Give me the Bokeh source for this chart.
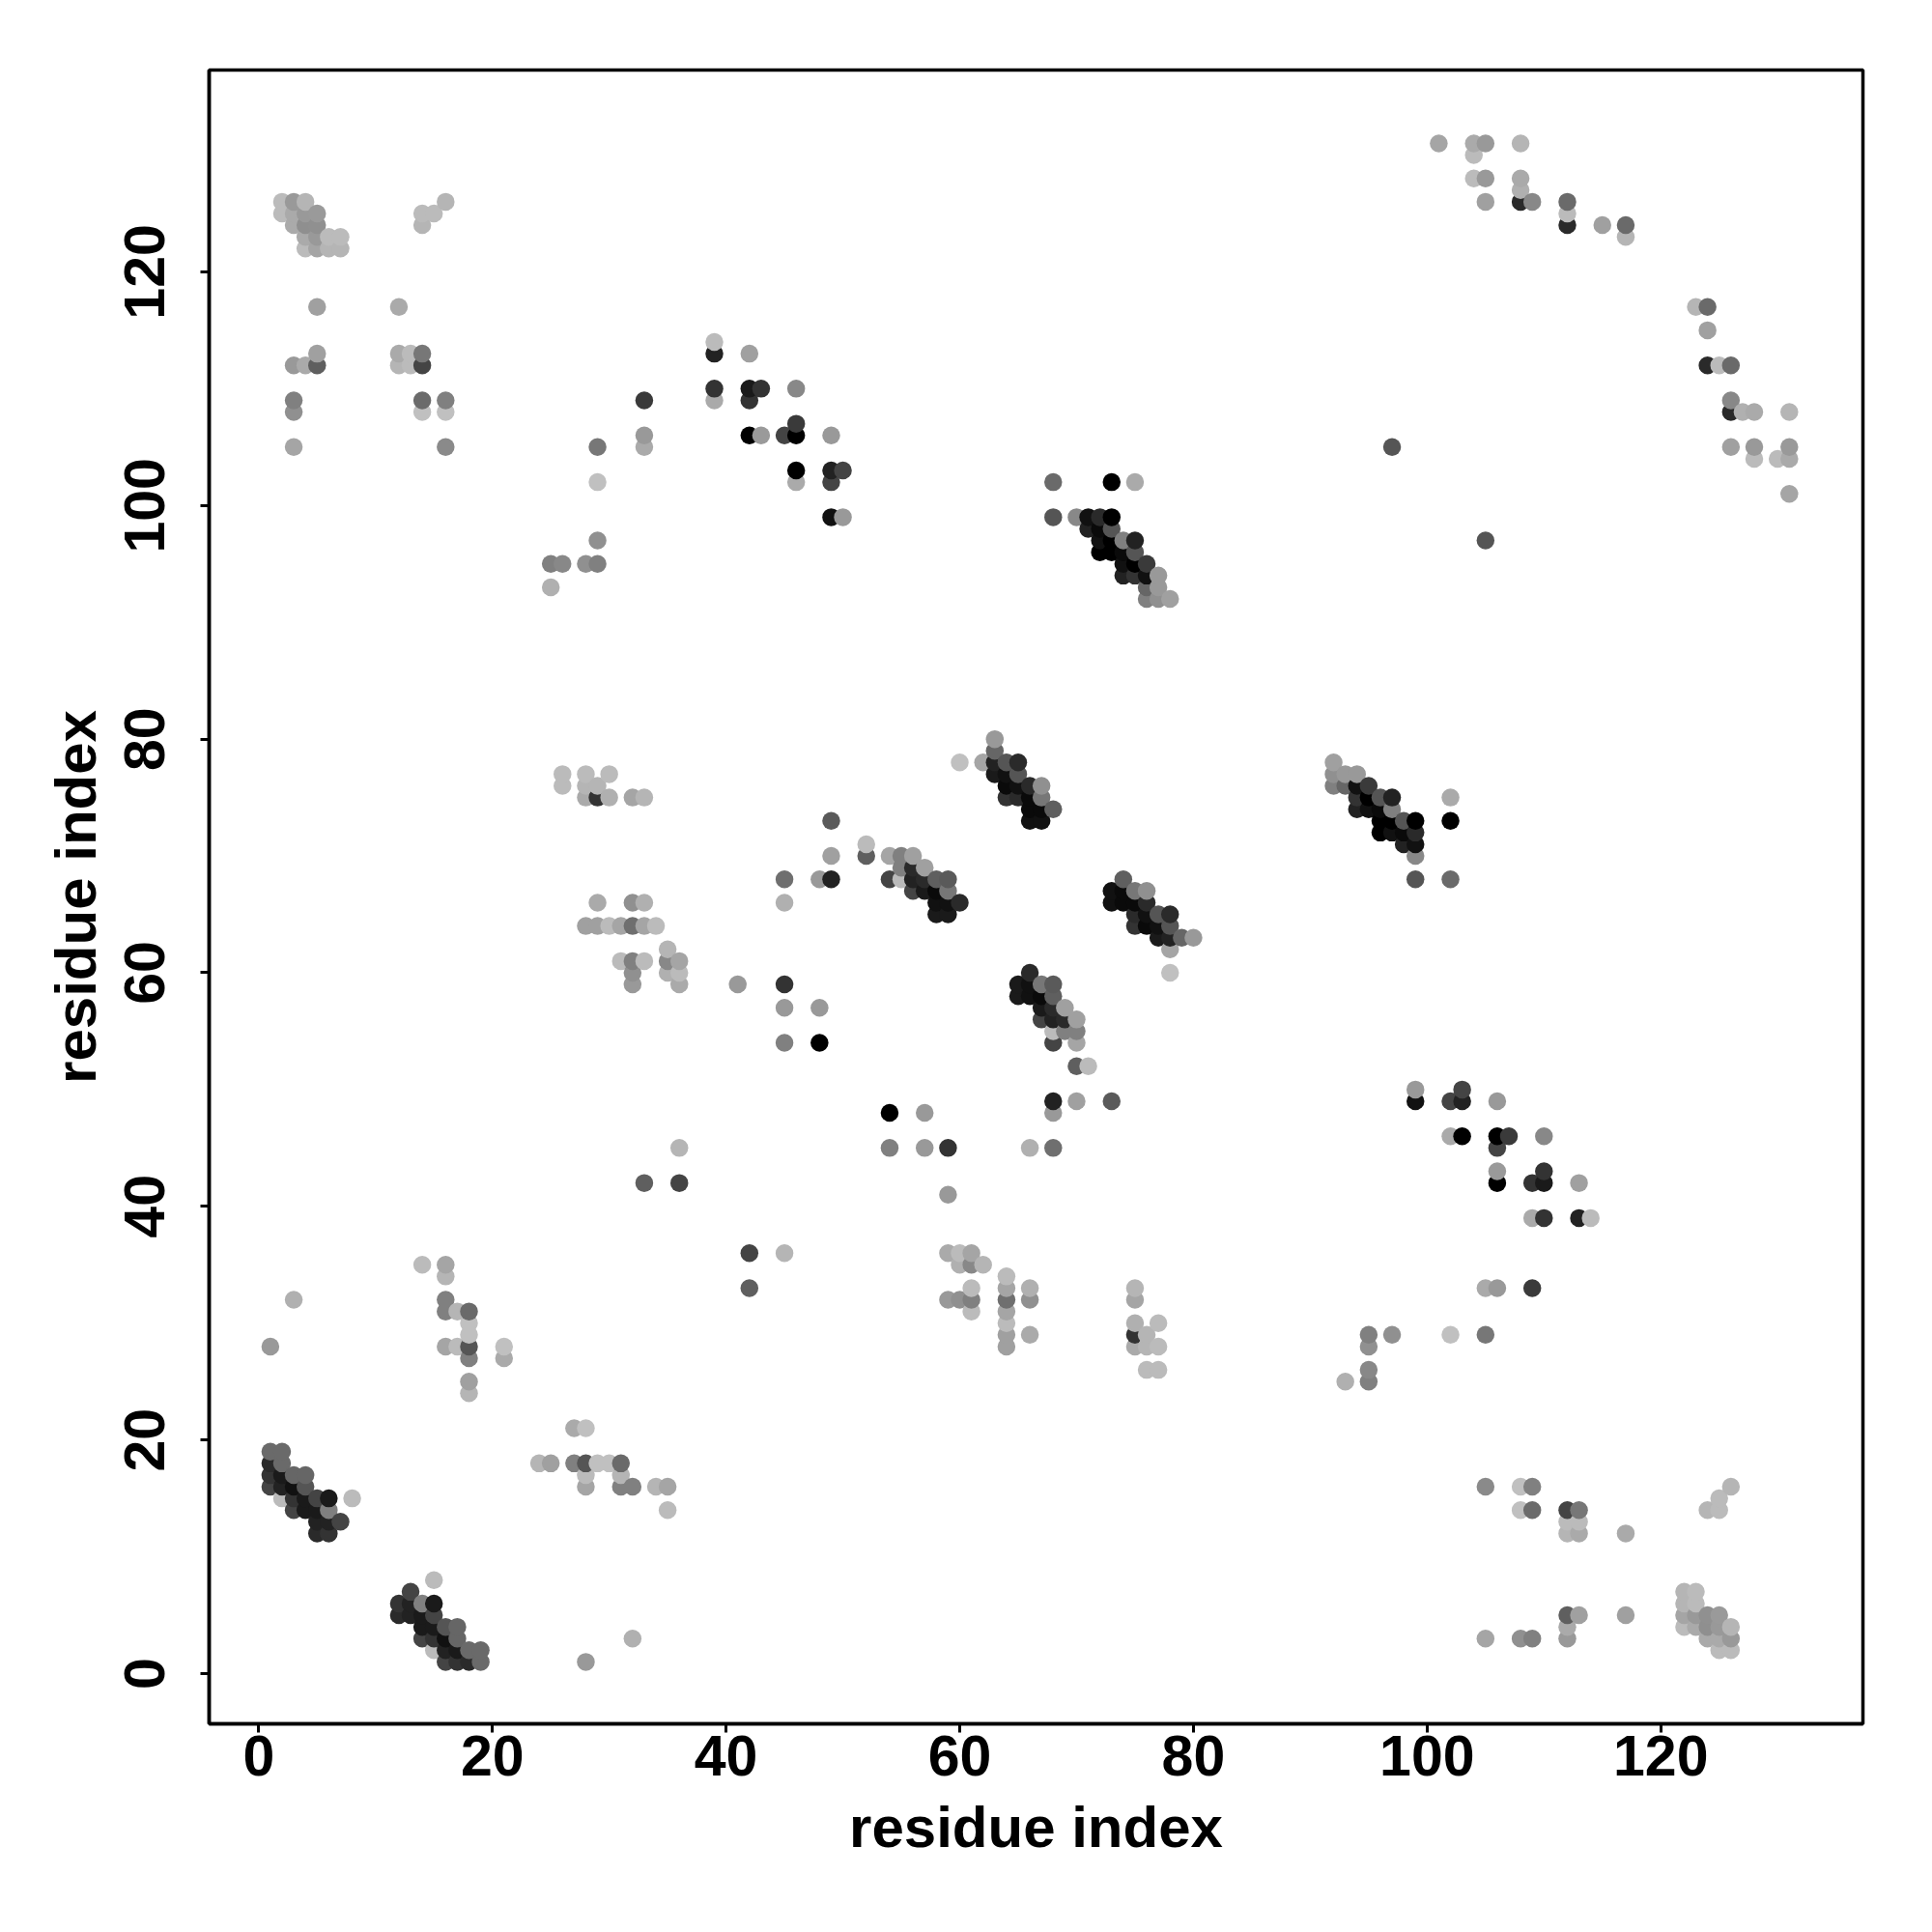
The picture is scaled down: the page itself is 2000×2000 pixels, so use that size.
from bokeh.plotting import figure
from bokeh.models import ColumnDataSource, FixedTicker
from bokeh.embed import file_html
from bokeh.resources import INLINE
import numpy as np

# contacts with residue_a < residue_b; the map is symmetric, so each is also drawn mirrored
residue_a = [
    1,1,1,1,1, 2,2,2,2,2,2,2, 3,3,3,3,3,3,3,3,3,3,3,3,
    4,4,4,4,4,4,4,4,4,4, 5,5,5,5,5,5,5,5,5,5,5, 6,6,6,6,6,6, 7,7,7, 8,
    12,12,12, 13,13, 14,14,14,14,14,14,14, 15,
    16,16,16,16,16,16,16,16,16, 17,17, 18,18,18,18,18,18,18, 21,21,
    25,25, 26,26,26, 28,28,28,28,28, 29,29,29,29,29,29,29,29, 30,30,30, 31,31,
    32,32,32,32,32,32, 33,33,33,33,33,33,33,33, 34, 35,35,35, 36,36,36,36,36,
    39,39,39,39, 41, 42,42,42,42, 43,43, 45,45,45,45,45,45, 46,46,46,46,46,
    48,48,48, 49,49,49,49,49,49,49, 50,50, 52,52, 54,54, 55,55,55, 56,56,56,56,
    57,57,57, 58,58,58,58, 59,59,59,59, 60,60, 62, 63,63,63,63, 64,64,64,64,
    65,65,65,65, 66,66,66,66, 67,67,67,67, 68,68,68, 70, 71,71, 72,72,72,72,
    73,73,73,73,73, 74,74,74,74, 75,75,75,75,75, 76,76,76,76, 77,77,77, 78,
    97, 101, 104,104,104, 105,105,105, 108,108,108,108, 109, 112,112,112, 115, 117,117,
]
residue_b = [
    16,17,18,19,28, 15,16,17,18,19,125,126, 14,15,16,17,32,105,108,109,112,124,125,126,
    14,15,16,17,112,122,123,124,125,126, 12,13,14,15,112,113,117,122,123,124,125, 12,13,14,15,122,123, 13,122,123, 15,
    112,113,117, 112,113, 35,108,109,112,113,124,125, 125,
    28,31,32,34,35,105,108,109,126, 28,31, 24,25,27,28,29,30,31, 27,28,
    93,95, 76,77,95, 64,75,76,77,95, 64,66,75,76,95,97,102,105, 64,75,77, 61,64,
    59,60,61,64,66,75, 42,61,64,66,75,105,106,109, 64, 60,61,62, 42,45,59,60,61,
    109,110,113,114, 59, 106,109,110,113, 106,110, 54,57,59,66,68,106, 102,103,106,107,110,
    54,57,68, 68,70,73,99,102,103,106, 99,103, 70,71, 68,70, 68,69,70, 67,68,69,70,
    67,68,69, 65,66,67,68, 65,66,67,68, 66,78, 78, 77,78,79,80, 75,76,77,78,
    75,76,77,78, 73,74,75,76, 73,74,75,76, 74,99,102, 99, 98,99, 96,97,98,99,
    96,97,98,99,102, 94,95,96,97, 94,95,96,97,102, 92,93,94,95, 92,93,94, 92,
    105, 131, 128,130,131, 126,128,131, 126,127,128,131, 126, 124,125,126, 124, 123,124,
]
gray_level = [
    68,51,42,106,153, 187,34,26,106,106,187,187, 68,51,17,102,176,165,144,128,153,170,170,153,
    26,26,85,102,170,187,170,143,153,181, 42,34,26,68,95,160,160,165,153,144,154, 51,34,128,26,181,187, 68,181,187, 187,
    181,170,170, 187,187, 187,192,107,68,119,181,187, 187,
    165,128,128,181,165,138,192,128,181, 187,181, 181,160,128,85,192,192,106, 170,192,
    176,128, 187,187,136, 160,170,181,187,144, 160,170,51,181,128,144,192,119, 187,176,187, 187,165,
    153,144,128,111,144,165, 95,187,165,176,181,170,153,58, 187, 176,136,181, 68,181,170,187,165,
    170,51,34,187, 153, 0,51,26,160, 154,51, 128,153,51,176,111,68, 170,0,0,58,136,
    0,153,153, 34,160,90,17,68,34,153, 153,68, 95,187, 68,165, 187,128,128, 68,34,42,160,
    26,42,160, 26,17,10,95, 26,17,119,90, 42,192, 165, 26,34,102,153, 51,10,17,85,
    42,17,85,42, 17,10,10,42, 17,10,119,144, 95,85,106, 136, 34,17, 0,17,10,42,
    0,0,85,0,0, 34,17,10,128, 51,0,85,34,170, 128,102,17,58, 144,153,153, 160,
    85, 165, 187,187,170, 160,153,153, 42,176,170,181, 136, 42,187,106, 160, 181,106,
]
tick_values = [0, 20, 40, 60, 80, 100, 120]
axis_title = "residue index"

a = np.array(residue_a)
b = np.array(residue_b)
g = np.array(gray_level)
xs = np.concatenate([a, b])
ys = np.concatenate([b, a])
gs = np.concatenate([g, g])
order = np.lexsort((ys, xs))
colors = ["#%02x%02x%02x" % (v, v, v) for v in gs[order]]
source = ColumnDataSource(dict(x=xs[order].tolist(), y=ys[order].tolist(), color=colors))

p = figure(width=1984, height=1984, output_backend="svg", toolbar_location=None,
           x_range=(-4.24, 137.3), y_range=(-4.3, 137.28),
           min_border_left=216, min_border_right=56, min_border_top=72, min_border_bottom=200,
           background_fill_color="white", border_fill_color="white")
p.scatter("x", "y", source=source, size=18.5, marker="circle", fill_color="color", line_color=None)

p.grid.visible = False
p.outline_line_color = "black"
p.outline_line_width = 3.5
for ax in (p.xaxis[0], p.yaxis[0]):
    ax.ticker = FixedTicker(ticks=tick_values)
    ax.axis_label = axis_title
    ax.axis_line_color = "black"
    ax.axis_line_width = 3.5
    ax.major_tick_line_color = "black"
    ax.major_tick_line_width = 3
    ax.major_tick_in = 0
    ax.major_tick_out = 9
    ax.minor_tick_line_color = None
    ax.major_label_text_font = "Liberation Sans"
    ax.major_label_text_font_style = "bold"
    ax.major_label_text_font_size = "59px"
    ax.major_label_text_color = "black"
    ax.axis_label_text_font = "Liberation Sans"
    ax.axis_label_text_font_style = "bold"
    ax.axis_label_text_font_size = "60px"
    ax.axis_label_text_color = "black"
p.yaxis[0].major_label_orientation = "vertical"
p.xaxis[0].major_label_standoff = 3
p.yaxis[0].major_label_standoff = 37
p.xaxis[0].axis_label_standoff = 17
p.yaxis[0].axis_label_standoff = 15

open("out.html", "w").write(file_html(p, INLINE))
